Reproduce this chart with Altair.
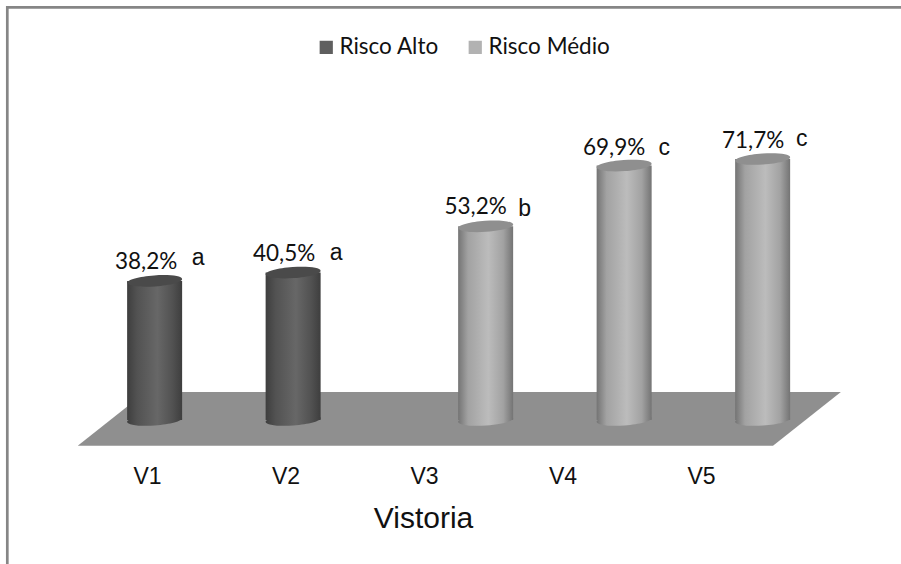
import altair as alt
import pandas as pd

# Survey rounds and the share of premises at each risk level
visits = ["V1", "V2", "V3", "V4", "V5"]
visit_index = [1, 2, 3, 4, 5]
shares = [38.2, 40.5, 53.2, 69.9, 71.7]
risk = ["Risco Alto", "Risco Alto", "Risco Médio", "Risco Médio", "Risco Médio"]
letters = ["a", "a", "b", "c", "c"]
value_text = ["38,2%", "40,5%", "53,2%", "69,9%", "71,7%"]

# Depth shift of each series along the category axis
series_shift = {"Risco Alto": 0.055, "Risco Médio": 0.445}

# Nudges of the annotations around each column top
label_dx = [-8.5, -9, -10, -10, -9.5]
label_dy = [-19, -19, -19, -18, -18]
letter_dx = [43.5, 43, 39, 40, 39]
letter_dy = [-23, -20, -17, -18, -20]

# Floor of the 3D scene
floor_y = [7.7, -7.1]
floor_left = [0.99, 0.50]
floor_right = [6.01, 5.52]

W, H = 901, 564
x_scale = alt.Scale(domain=[-0.0614, 6.444], nice=False, zero=False, padding=0)
y_scale = alt.Scale(domain=[-39.56, 115.38], nice=False, zero=False, padding=0)
COL_WIDTH = 55

df = pd.DataFrame(
    {
        "visit": visits,
        "idx": visit_index,
        "share": shares,
        "risk": risk,
        "letter": letters,
        "text": value_text,
        "base": [0] * len(visits),
    }
)
df["pos"] = [i + series_shift[r] for i, r in zip(visit_index, risk)]

floor = pd.DataFrame({"y": floor_y, "l": floor_left, "r": floor_right})

X_POS = alt.X("pos:Q", scale=x_scale, axis=None)
Y_NONE = alt.Y("share:Q", scale=y_scale, axis=None)


def shade(edge, mid, inner):
    return alt.LinearGradient(
        gradient="linear",
        x1=0,
        x2=1,
        y1=0,
        y2=0,
        stops=[
            alt.GradientStop(offset=0, color=edge),
            alt.GradientStop(offset=0.18, color=mid),
            alt.GradientStop(offset=0.55, color=inner),
            alt.GradientStop(offset=0.82, color=mid),
            alt.GradientStop(offset=1, color=edge),
        ],
    )


shades = {
    "Risco Alto": shade("#3e3e3e", "#525252", "#676767"),
    "Risco Médio": shade("#747474", "#a2a2a2", "#bcbcbc"),
}
cap_color = {"Risco Alto": "#4a4a4a", "Risco Médio": "#8f8f8f"}

# Flat tilted ellipse used for both ends of a column
ELLIPSE = "M-1,0.07 A1,0.2 -4 1,1 1,-0.07 A1,0.2 -4 1,1 -1,0.07 Z"

floor_layer = (
    alt.Chart(floor)
    .mark_area(orient="horizontal", color="#8f8f8f")
    .encode(
        x=alt.X(
            "l:Q",
            scale=x_scale,
            axis=alt.Axis(
                values=visit_index,
                labelExpr="'V' + datum.value",
                title="Vistoria",
                domain=False,
                ticks=False,
                grid=False,
                offset=-104,
                labelFont="Liberation Sans",
                labelFontSize=23,
                labelColor="#111111",
                labelPadding=5,
                titleFont="Liberation Sans",
                titleFontSize=30,
                titleFontWeight="normal",
                titleColor="#111111",
                titleX=423,
                titleY=43,
            ),
        ),
        x2="r:Q",
        y=alt.Y("y:Q", scale=y_scale, axis=None),
    )
)

# Small squares under the columns carry the series colours for the legend
legend_layer = (
    alt.Chart(df)
    .mark_square(size=4, opacity=1)
    .encode(
        x=X_POS,
        y=Y_NONE,
        color=alt.Color(
            "risk:N",
            scale=alt.Scale(
                domain=["Risco Alto", "Risco Médio"], range=["#5f5f5f", "#b2b2b2"]
            ),
            legend=alt.Legend(
                title=None,
                orient="none",
                legendX=315,
                legendY=36,
                direction="horizontal",
                symbolType="square",
                symbolSize=175,
                symbolStrokeWidth=0,
                labelFont="Lato",
                labelFontSize=22.5,
                labelColor="#111111",
                columnPadding=25,
                labelOffset=2,
            ),
        ),
    )
)

layers = [floor_layer, legend_layer]

for name in ["Risco Alto", "Risco Médio"]:
    subset = df[df["risk"] == name]
    layers.append(
        alt.Chart(subset)
        .mark_point(shape=ELLIPSE, filled=True, size=COL_WIDTH**2, fill=shades[name], opacity=1, strokeWidth=0)
        .encode(x=X_POS, y=alt.Y("base:Q", scale=y_scale, axis=None))
    )
    layers.append(
        alt.Chart(subset)
        .mark_bar(orient="vertical", size=COL_WIDTH, fill=shades[name])
        .encode(x=X_POS, y=Y_NONE, y2="base:Q")
    )
    layers.append(
        alt.Chart(subset)
        .mark_point(shape=ELLIPSE, filled=True, size=COL_WIDTH**2, fill=cap_color[name], opacity=1, strokeWidth=0)
        .encode(x=X_POS, y=Y_NONE)
    )

for i in range(len(visits)):
    row = df.iloc[[i]]
    layers.append(
        alt.Chart(row)
        .mark_text(font="Lato", fontSize=22.5, color="#111111", dx=label_dx[i], dy=label_dy[i])
        .encode(x=X_POS, y=Y_NONE, text="text:N")
    )
    layers.append(
        alt.Chart(row)
        .mark_text(font="Liberation Sans", fontSize=23, color="#111111", dx=letter_dx[i], dy=letter_dy[i])
        .encode(x=X_POS, y=Y_NONE, text="letter:N")
    )

# Frame along the top and left edges only
frame_color = "#868686"
frame = [
    alt.Chart(df.iloc[[0]])
    .mark_rule(color=frame_color, strokeWidth=2.7)
    .encode(x=alt.value(6), x2=alt.value(W), y=alt.value(7.3)),
    alt.Chart(df.iloc[[0]])
    .mark_rule(color=frame_color, strokeWidth=2.7)
    .encode(x=alt.value(7.3), y=alt.value(6), y2=alt.value(H)),
]

chart = (
    alt.layer(*layers, *frame)
    .resolve_axis(x="independent", y="independent")
    .properties(
        width=W,
        height=H,
        padding=0,
        autosize=alt.AutoSizeParams(type="none"),
        background="white",
    )
    .configure_view(stroke=None)
)

chart.save("out.html", embed_options={"renderer": "svg", "actions": False})
